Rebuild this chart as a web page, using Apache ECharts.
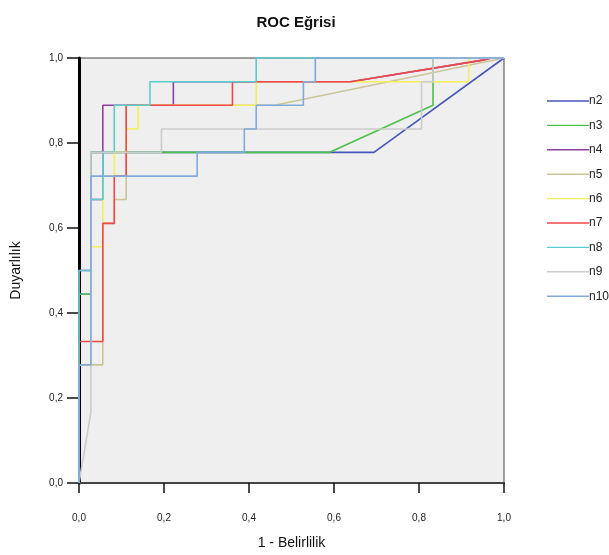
<!DOCTYPE html>
<html>
<head>
<meta charset="utf-8">
<script src="https://cdn.jsdelivr.net/npm/echarts@6/dist/echarts.min.js"></script>
<style>html,body{margin:0;padding:0;background:#fff}#c{width:609px;height:555px}</style>
</head>
<body>
<div id="c"></div>
<script>
const seriesNames = ['n2','n3','n4','n5','n6','n7','n8','n9','n10'];
const xTicks = [0, 0.2, 0.4, 0.6, 0.8, 1.0];
const yTicks = [0, 0.2, 0.4, 0.6, 0.8, 1.0];

const n2 = [[0,0],[0,0.444],[0.028,0.444],[0.028,0.778],[0.694,0.778],[1,1]];
const n3 = [[0,0],[0,0.444],[0.028,0.444],[0.028,0.778],[0.59,0.778],[0.833,0.889],[0.833,1],[1,1]];
const n4 = [[0,0],[0,0.5],[0.028,0.5],[0.028,0.667],[0.056,0.667],[0.056,0.889],[0.222,0.889],[0.222,0.944],[0.639,0.944],[0.95,0.995],[0.97,1],[1,1]];
const n5 = [[0,0],[0,0.278],[0.056,0.278],[0.056,0.611],[0.083,0.611],[0.083,0.667],[0.111,0.667],[0.111,0.889],[0.46,0.889],[1,1]];
const n6 = [[0,0],[0,0.278],[0.028,0.278],[0.028,0.556],[0.056,0.556],[0.056,0.722],[0.083,0.722],[0.083,0.778],[0.111,0.778],[0.111,0.833],[0.139,0.833],[0.139,0.889],[0.417,0.889],[0.417,0.944],[0.917,0.944],[0.917,1],[1,1]];
const n7 = [[0,0],[0,0.333],[0.056,0.333],[0.056,0.611],[0.083,0.611],[0.083,0.722],[0.111,0.722],[0.111,0.889],[0.361,0.889],[0.361,0.944],[0.639,0.944],[0.95,0.995],[0.97,1],[1,1]];
const n8 = [[0,0],[0,0.5],[0.028,0.5],[0.028,0.667],[0.056,0.667],[0.056,0.778],[0.083,0.778],[0.083,0.889],[0.167,0.889],[0.167,0.944],[0.417,0.944],[0.417,1],[1,1]];
const n9 = [[0,0],[0.028,0.167],[0.028,0.778],[0.194,0.778],[0.194,0.833],[0.806,0.833],[0.806,0.944],[0.833,0.944],[0.833,1],[1,1]];
const n10 = [[0,0],[0,0.278],[0.028,0.278],[0.028,0.722],[0.278,0.722],[0.278,0.778],[0.389,0.778],[0.389,0.833],[0.417,0.833],[0.417,0.889],[0.528,0.889],[0.528,0.944],[0.556,0.944],[0.556,1],[1,1]];

const seriesData = [n2,n3,n4,n5,n6,n7,n8,n9,n10];
const colors = ['#4656bd','#4cc04c','#8e40a0','#cbc49a','#f4f05c','#f04848','#5ccccc','#cccccc','#80aadc'];

const fmt = v => v.toFixed(1).replace('.', ',');
const FONT = '"Liberation Sans", Arial, sans-serif';

const chart = echarts.init(document.getElementById('c'), null, {renderer:'canvas'});
chart.setOption({
  animation: false,
  backgroundColor: '#ffffff',
  title: {
    text: 'ROC Eğrisi', left: 291, top: 10, textAlign: 'center',
    textStyle: {fontFamily: FONT, fontSize: 15, fontWeight: 'bold', color: '#111'}
  },
  legend: {
    orient: 'vertical', left: 542, top: 90, itemWidth: 42, itemHeight: 14, itemGap: 12.4,
    icon: 'path://M0,0H42V1.4H0Z',
    data: seriesNames,
    textStyle: {fontFamily: FONT, fontSize: 12, color: '#222', padding: [0,0,0,-5]}
  },
  grid: {
    left: 79, right: 105, top: 58, bottom: 70,
    show: true, backgroundColor: '#efefef', borderColor: '#444', borderWidth: 1
  },
  xAxis: [{
    type: 'value', min: xTicks[0], max: xTicks[xTicks.length-1], interval: 0.2,
    name: '1 - Belirlilik', nameLocation: 'middle', nameGap: 53,
    nameTextStyle: {fontFamily: FONT, fontSize: 14, color: '#111'},
    axisLine: {lineStyle: {color: '#333', width: 2}},
    axisTick: {inside: false, length: 10, lineStyle: {color: '#111', width: 1.5}},
    axisLabel: {formatter: fmt, margin: 30, fontFamily: FONT, fontSize: 10, color: '#222'},
    splitLine: {show: false}
  },{
    type: 'value', position: 'top', min: 0, max: 1,
    axisLine: {show: true, lineStyle: {color: '#444', width: 2}},
    axisTick: {show: false}, axisLabel: {show: false}, splitLine: {show: false}
  }],
  yAxis: [{
    type: 'value', min: yTicks[0], max: yTicks[yTicks.length-1], interval: 0.2,
    name: 'Duyarlılık', nameLocation: 'middle', nameGap: 56,
    nameTextStyle: {fontFamily: FONT, fontSize: 14, color: '#111'},
    axisLine: {show: true, lineStyle: {color: '#111', width: 2}},
    axisTick: {inside: false, length: 12, lineStyle: {color: '#111', width: 1.5}},
    axisLabel: {formatter: fmt, margin: 16, fontFamily: FONT, fontSize: 10, color: '#222'},
    splitLine: {show: false}
  },{
    type: 'value', position: 'right', min: 0, max: 1,
    axisLine: {show: true, lineStyle: {color: '#000', width: 3}},
    axisTick: {show: false}, axisLabel: {show: false}, splitLine: {show: false}
  }],
  series: seriesNames.map((nm, i) => ({
    name: nm, type: 'line', data: seriesData[i], symbol: 'none', clip: false,
    color: colors[i],
    lineStyle: {color: colors[i], width: 1.6},
    z: 2 + i * 0.01
  }))
});
</script>
</body>
</html>
